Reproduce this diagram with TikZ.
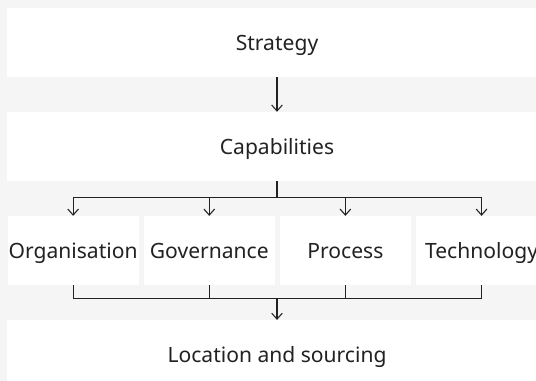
\documentclass[tikz,border=0pt]{standalone}
\usepackage{fontspec}
\setmainfont{Noto Sans}
\usepackage{tikz}
\usetikzlibrary{positioning,arrows.meta}

\definecolor{pagegray}{HTML}{F5F5F5}
\definecolor{inkgray}{HTML}{222222}

\begin{document}
\begin{tikzpicture}[x=0.75pt, y=-0.75pt,
  > = {Straight Barb[length=4.5pt, width=8pt]},
  node distance=25.9pt and 3.4pt,
  box/.style={fill=white, text=inkgray, inner sep=0pt, minimum height=51.75pt,
    text height=13.5pt, text depth=1.5pt, font=\fontsize{15.8}{19}\selectfont},
  widebox/.style={box, minimum width=405pt},
  smallbox/.style={box, minimum width=98.3pt},
  link/.style={draw=inkgray, line width=0.8pt}]
\fill[pagegray] (0,0) rectangle (536,381);
\useasboundingbox (0,0) rectangle (536,381);
\clip (0,0) rectangle (536,381);

\node (strategy) [widebox] at (277,42.5) {Strategy};
\node (capabilities) [widebox, below=of strategy] {Capabilities};

\node (governance) [smallbox, below=of capabilities, xshift=-50.8pt] {Governance};
\node (organisation) [smallbox, left=of governance] {Organisation};
\node (process) [smallbox, right=of governance] {Process};
\node (technology) [smallbox, right=of process] {Technology};

\coordinate (rowmid) at (governance.south -| capabilities);
\node (location) [widebox, below=of rowmid, anchor=north] {Location and sourcing};

\coordinate [below=12pt of capabilities] (split);
\coordinate [above=15.75pt of location] (merge);

\draw[link, ->] (strategy) to (capabilities);

\draw[link] (capabilities) to (split);
\draw[link, ->] (split) -| (organisation);
\draw[link, ->] (split) -| (governance);
\draw[link, ->] (split) -| (process);
\draw[link, ->] (split) -| (technology);

\draw[link] (organisation) |- (merge);
\draw[link] (governance) |- (merge);
\draw[link] (process) |- (merge);
\draw[link] (technology) |- (merge);
\draw[link, ->] (merge) to (location);
\end{tikzpicture}
\end{document}
